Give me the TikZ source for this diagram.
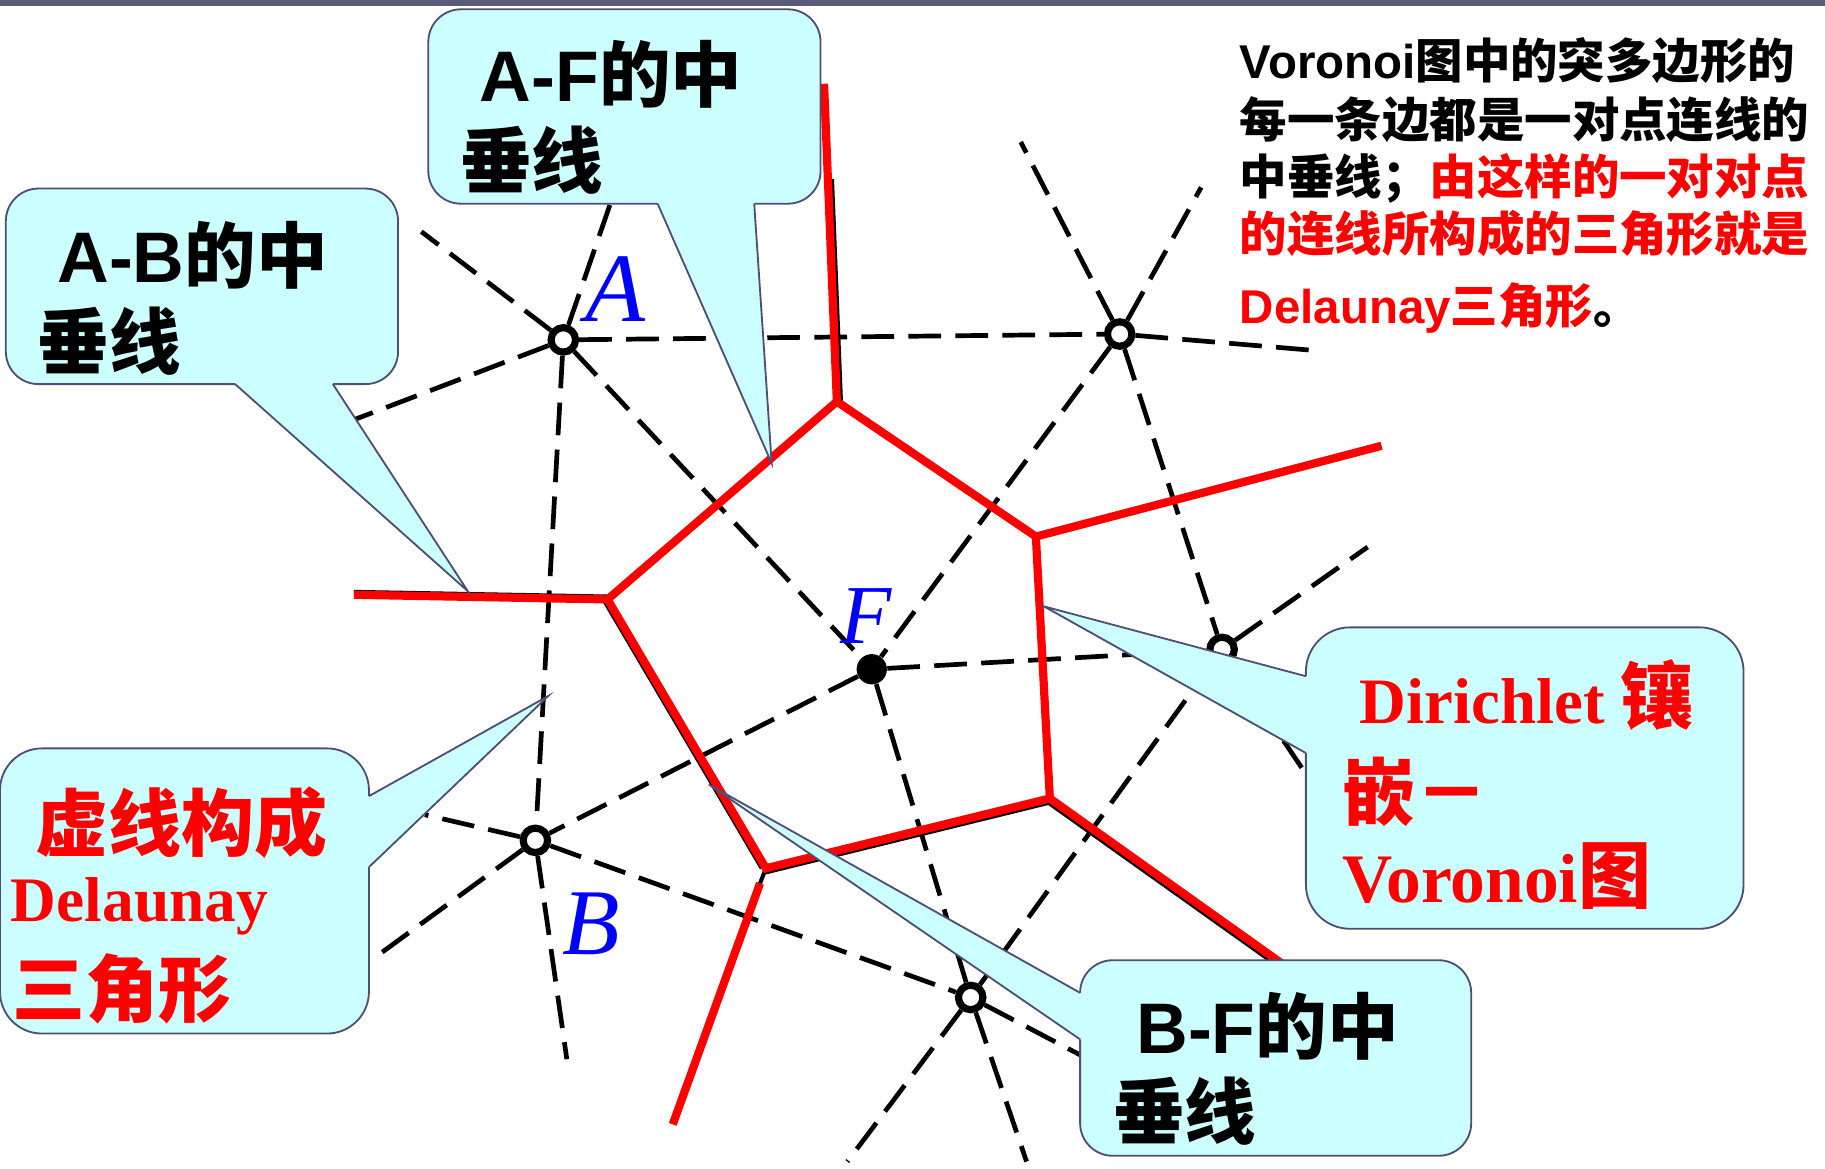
\documentclass[tikz,border=0pt]{standalone}
\usepackage{fontspec}
\usetikzlibrary{calc}
\setmainfont{Liberation Serif}
\newfontfamily\lsans{Liberation Sans}
\newfontfamily\cjk{Noto Sans CJK SC}
\newcommand{\lsb}{\lsans\bfseries}
\newcommand{\cjb}{\cjk\bfseries}
\newcommand{\srb}{\rmfamily\bfseries}
\newcommand{\fs}[1]{\fontsize{#1}{#1}\selectfont}
\definecolor{calfill}{HTML}{CCFFFF}
\definecolor{calline}{HTML}{4F4F75}
\definecolor{topbar}{HTML}{5A5A7A}
\definecolor{vred}{HTML}{FF0000}
\definecolor{lblue}{HTML}{0000FF}
\tikzset{
  dl/.style={black, line width=2.3pt, dash pattern=on 16pt off 7pt},
  site/.style={circle, draw=black, fill=white, line width=3.5pt, minimum size=0.42cm, inner sep=0pt},
  fsite/.style={circle, fill=black, minimum size=0.52cm, inner sep=0pt},
  vr/.style={vred, line width=4pt},
  shadowline/.style={black, line width=2pt},
  calbox/.style={fill=calfill, draw=calline, line width=0.9pt},
  caltail/.style={draw=calline, line width=0.9pt},
  txt/.style={inner sep=0pt, anchor=base west},
  lbl/.style={inner sep=0pt, anchor=base west, text=lblue, font=\itshape},
}
\begin{document}
\begin{tikzpicture}[x=0.02cm, y=-0.02cm]
\useasboundingbox (0,0) rectangle (1568,1004);
\fill[topbar] (0,0) rectangle (1568,5);

% sites
\node[site] (A) at (484,292) {};
\node[site] (T) at (962,287) {};
\node[fsite] (F) at (749,575) {};
\node[site] (B) at (460,722) {};
\node[site] (S) at (834,857) {};
\node[site] (R) at (1050,558) {};

% free ends of dashed lines
\coordinate (a1) at (362,199);
\coordinate (a2) at (533,150);
\coordinate (a3) at (290,366);
\coordinate (t1) at (877,122);
\coordinate (t2) at (1032,161);
\coordinate (t3) at (1128,301);
\coordinate (r1) at (1175,470);
\coordinate (r2) at (1120,662);
\coordinate (b1) at (365,700);
\coordinate (b2) at (323,822);
\coordinate (b3) at (487,910);
\coordinate (s1) at (728,998);
\coordinate (s2) at (882,998);
\coordinate (s3) at (935,910);

% Delaunay (dashed)
\draw[dl] (A) -- (a1);
\draw[dl] (A) -- (a2);
\draw[dl] (A) -- (a3);
\draw[dl] (A) -- (T);
\draw[dl] (A) -- (B);
\draw[dl] (A) -- (F);
\draw[dl] (T) -- (t1);
\draw[dl] (T) -- (t2);
\draw[dl] (T) -- (t3);
\draw[dl] (T) -- (F);
\draw[dl] (T) -- (R);
\draw[dl] (F) -- (R);
\draw[dl] (F) -- (B);
\draw[dl] (F) -- (S);
\draw[dl] (R) -- (r1);
\draw[dl] (R) -- (r2);
\draw[dl] (R) -- (S);
\draw[dl] (B) -- (b1);
\draw[dl] (B) -- (b2);
\draw[dl] (B) -- (b3);
\draw[dl] (B) -- (S);
\draw[dl] (S) -- (s1);
\draw[dl] (S) -- (s2);
\draw[dl] (S) -- (s3);

% Voronoi vertices
\coordinate (V1) at (719,345);
\coordinate (V2) at (890,461);
\coordinate (V3) at (902,686);
\coordinate (V4) at (658,746);
\coordinate (V5) at (522,515);
\coordinate (v1e) at (708,72);
\coordinate (v2e) at (1187,383);
\coordinate (v3e) at (1110,834);
\coordinate (v4s) at (653,759);
\coordinate (v4e) at (578,966);
\coordinate (v5e) at (304,511);
\coordinate (v1m) at ($(v1e)!0.3!(V1)$);

% black shadows of original solid lines
\draw[shadowline] ([xshift=-2pt]V5) -- ([xshift=-2pt]V4);
\draw[shadowline] ([yshift=-2pt]V4) -- ([yshift=-2pt]V3);
\draw[shadowline] ([xshift=-1.5pt,yshift=-1.5pt]V3) -- ([xshift=-1.5pt,yshift=-1.5pt]v3e);
\draw[shadowline] (V4) -- (v4s);
\draw[shadowline] ([yshift=1.4pt]v5e) -- ([yshift=1.4pt]V5);
\draw[shadowline] ([xshift=2pt]V1) -- ([xshift=2pt]v1m);

% Voronoi (red)
\draw[vr] (V1) -- (V2) -- (V3) -- (V4) -- (V5) -- cycle;
\draw[vr] (V1) -- (v1e);
\draw[vr] (V2) -- (v2e);
\draw[vr] (V3) -- (v3e);
\draw[vr] (v4s) -- (v4e);
\draw[vr] (V5) -- (v5e);

% ---------- callouts ----------
% A-F
\path[calbox, rounded corners=0.56cm] (368,8) rectangle (705,175);
\coordinate (afL) at (565,175); \coordinate (afR) at (648,175); \coordinate (afT) at (663,398);
\fill[calfill] (afL) -- (afT) -- (afR) -- ++(0,-6) -- ([yshift=0.12cm]afL) -- cycle;
\draw[caltail] (afL) -- (afT) -- (afR);
\node[txt, font=\fs{35pt}] (afx1) at (412,87) {{\lsb A-F}{\cjb 的中}};
\node[txt, font=\fs{35pt}] (afx2) at (395,161) {\cjb 垂线};

% A-B
\path[calbox, rounded corners=0.56cm] (5,162) rectangle (342,330);
\coordinate (abL) at (202,330); \coordinate (abR) at (286,330); \coordinate (abT) at (402,508);
\fill[calfill] (abL) -- (abT) -- (abR) -- ++(0,-6) -- ([yshift=0.12cm]abL) -- cycle;
\draw[caltail] (abL) -- (abT) -- (abR);
\node[txt, font=\fs{35pt}] (abx1) at (49,243) {{\lsb A-B}{\cjb 的中}};
\node[txt, font=\fs{35pt}] (abx2) at (32,317) {\cjb 垂线};

% left: Delaunay
\path[calbox, rounded corners=0.72cm] (0,643) rectangle (317,888);
\coordinate (dlU) at (317,684); \coordinate (dlD) at (317,745); \coordinate (dlT) at (471,598);
\fill[calfill] (dlU) -- (dlT) -- (dlD) -- ++(-6,0) -- ([xshift=-0.12cm]dlU) -- cycle;
\draw[caltail] (dlU) -- (dlT) -- (dlD);
\node[txt, text=vred, font=\fs{35.7pt}] (dlx1) at (30,731) {\cjb 虚线构成};
\node[txt, text=vred, font=\fs{31pt}] (dlx2) at (9,792) {\srb Delaunay};
\node[txt, text=vred, font=\fs{35.7pt}] (dlx3) at (10,873) {\cjb 三角形};

% right: Dirichlet
\path[calbox, rounded corners=0.76cm] (1122,539) rectangle (1498,798);
\coordinate (diU) at (1122,581); \coordinate (diD) at (1122,647); \coordinate (diT) at (897,521);
\fill[calfill] (diU) -- (diT) -- (diD) -- ++(6,0) -- ([xshift=0.12cm]diU) -- cycle;
\draw[caltail] (diU) -- (diT) -- (diD);
\node[txt, text=vred] (dix1) at (1168,621.7) {{\fs{31.7pt}\srb Dirichlet }{\fs{35.7pt}\cjb 镶}};
\node[txt, text=vred, font=\fs{35.7pt}] (dix2) at (1153,704) {\cjb 嵌－};
\node[txt, text=vred] (dix3) at (1153,775) {{\fs{34pt}\srb Voronoi}{\fs{35.7pt}\cjb 图}};

% B-F
\path[calbox, rounded corners=0.56cm] (928,825) rectangle (1264,993);
\coordinate (bfU) at (928,853); \coordinate (bfD) at (928,893); \coordinate (bfT) at (609,674);
\fill[calfill] (bfU) -- (bfT) -- (bfD) -- ++(6,0) -- ([xshift=0.12cm]bfU) -- cycle;
\draw[caltail] (bfU) -- (bfT) -- (bfD);
\node[txt, font=\fs{35pt}] (bfx1) at (976,905) {{\lsb B-F}{\cjb 的中}};
\node[txt, font=\fs{35pt}] (bfx2) at (956,978) {\cjb 垂线};

% ---------- explanation text ----------
\node[txt, font=\fs{23.2pt}] (e1) at (1065,67.5) {{\lsb Voronoi}{\cjb 图中的突多边形的}};
\node[txt, font=\fs{23.2pt}] (e2) at (1065,118) {\cjb 每一条边都是一对点连线的};
\node[txt, font=\fs{23.2pt}] (e3) at (1065,167) {{\cjb 中垂线；}{\color{vred}\cjb 由这样的一对对点}};
\node[txt, font=\fs{23.2pt}, text=vred] (e4) at (1065,216) {\cjb 的连线所构成的三角形就是};
\node[txt, font=\fs{23.2pt}] (e5) at (1065,277.6) {{\color{vred}\lsb Delaunay\cjb 三角形}{\cjb 。}};

% ---------- point labels ----------
\node[lbl, font=\fs{48pt}\itshape] (lA) at (503,276) {A};
\node[lbl, font=\fs{46pt}\itshape] (lB) at (483,820) {B};
\node[lbl, font=\fs{41pt}\itshape] (lF) at (722,553) {F};
\end{tikzpicture}
\end{document}
